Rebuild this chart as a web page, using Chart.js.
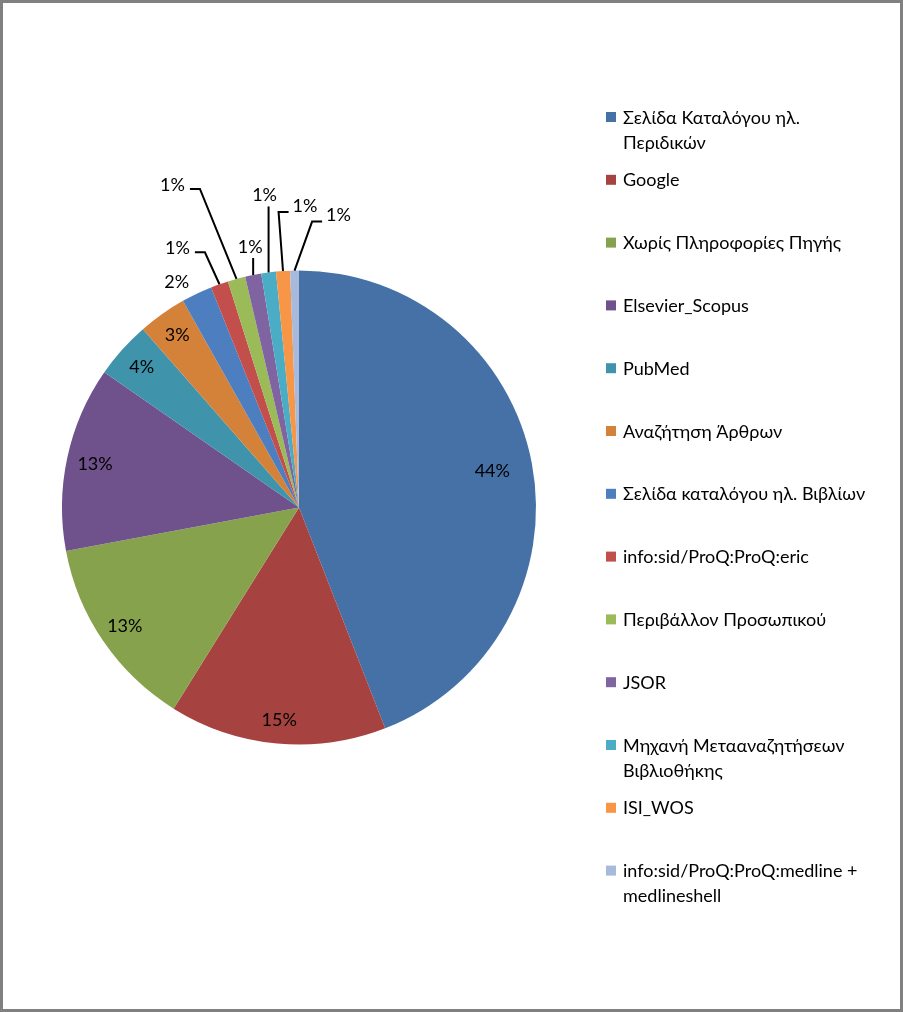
<!DOCTYPE html>
<html>
<head>
<meta charset="utf-8">
<script src="https://cdn.jsdelivr.net/npm/chart.js@4"></script>
<style>
  body { margin: 0; background: #fff; }
  canvas { display: block; }
</style>
</head>
<body>
<canvas id="pie" width="903" height="1012"></canvas>
<script>
// πηγές πρόσβασης (ετικέτες του υπομνήματος)
const sources = [
  ["Σελίδα Καταλόγου ηλ.", "Περιδικών"],
  "Google",
  "Χωρίς Πληροφορίες Πηγής",
  "Elsevier_Scopus",
  "PubMed",
  "Αναζήτηση Άρθρων",
  "Σελίδα καταλόγου ηλ. Βιβλίων",
  "info:sid/ProQ:ProQ:eric",
  "Περιβάλλον Προσωπικού",
  "JSOR",
  ["Μηχανή Μετααναζητήσεων", "Βιβλιοθήκης"],
  "ISI_WOS",
  ["info:sid/ProQ:ProQ:medline +", "medlineshell"]
];

// μερίδια (%) όπως διαβάζονται από το γράφημα
const shares = [44.1, 14.8, 13.2, 12.6, 3.9, 3.3, 2.1, 1.2, 1.2, 1.1, 1.0, 0.95, 0.6];

const colors = [
  "#4571A6", "#A6423F", "#87A24D", "#6F518C", "#3F94AC", "#D4823A",
  "#4C7EC0", "#C24F4B", "#9BBB59", "#8064A2", "#4BACC6", "#F79646", "#A8BADB"
];

// θέση ετικετών: μέσα στη φέτα (κλάσμα ακτίνας) ή έξω με γραμμή οδηγό
const labelSpots = [
  { r: 0.83 }, { r: 0.90 }, { r: 0.89 }, { r: 0.88 }, { r: 0.89 }, { r: 0.89 },
  { dx: -20, dy: -11, lead: "none" },
  { dx: -42, dy: -36, lead: "right" },
  { dx: -64, dy: -94, lead: "right" },
  { dx: -3, dy: -28, lead: "bottom" },
  { dx: -4, dy: -77, lead: "bottom" },
  { dx: 22, dy: -65, lead: "left" },
  { dx: 44, dy: -55, lead: "left" }
];

const FONT = "18px Lato, 'Open Sans', sans-serif";

const framePlugin = {
  id: "frame",
  beforeDraw(chart) {
    const ctx = chart.ctx;
    ctx.save();
    ctx.fillStyle = "#fff";
    ctx.fillRect(0, 0, chart.width, chart.height);
    ctx.restore();
  },
  afterDraw(chart) {
    const ctx = chart.ctx;
    ctx.save();
    ctx.strokeStyle = "#808080";
    ctx.lineWidth = 3;
    ctx.strokeRect(1.5, 1.5, chart.width - 3, chart.height - 3);
    ctx.restore();
  }
};

const sliceLabels = {
  id: "sliceLabels",
  afterDatasetsDraw(chart) {
    const ctx = chart.ctx;
    const arcs = chart.getDatasetMeta(0).data;
    const values = chart.data.datasets[0].data;
    const total = values.reduce((a, b) => a + b, 0);
    ctx.save();
    ctx.font = FONT;
    ctx.fillStyle = "#000";
    ctx.strokeStyle = "#000";
    ctx.lineWidth = 2;
    ctx.textAlign = "center";
    ctx.textBaseline = "middle";
    arcs.forEach((arc, i) => {
      const text = Math.round(values[i] / total * 100) + "%";
      const mid = (arc.startAngle + arc.endAngle) / 2;
      const spot = labelSpots[i];
      if (spot.r) {
        const d = arc.outerRadius * spot.r;
        ctx.fillText(text, arc.x + Math.cos(mid) * d, arc.y + Math.sin(mid) * d);
        return;
      }
      const rx = arc.x + Math.cos(mid) * arc.outerRadius;
      const ry = arc.y + Math.sin(mid) * arc.outerRadius;
      const lx = rx + spot.dx, ly = ry + spot.dy;
      ctx.fillText(text, lx, ly);
      const half = ctx.measureText(text).width / 2;
      ctx.beginPath();
      if (spot.lead === "right") {
        ctx.moveTo(lx + half + 5, ly + 4);
        ctx.lineTo(lx + half + 15, ly + 4);
        ctx.lineTo(rx, ry);
      } else if (spot.lead === "left") {
        ctx.moveTo(lx - half - 4, ly + 6);
        ctx.lineTo(lx - half - 14, ly + 6);
        ctx.lineTo(rx, ry);
      } else if (spot.lead === "bottom") {
        ctx.moveTo(rx, ly + 11);
        ctx.lineTo(rx, ry);
      }
      ctx.stroke();
    });
    ctx.restore();
  }
};

const sideLegend = {
  id: "sideLegend",
  afterDraw(chart) {
    const ctx = chart.ctx;
    const bg = chart.data.datasets[0].backgroundColor;
    const top = 117, step = 62.8;
    ctx.save();
    ctx.font = FONT;
    ctx.textAlign = "left";
    ctx.textBaseline = "alphabetic";
    chart.data.labels.forEach((label, i) => {
      const y = top + i * step;
      ctx.fillStyle = bg[i];
      ctx.fillRect(606, y - 5, 10, 10);
      ctx.fillStyle = "#000";
      const lines = Array.isArray(label) ? label : [label];
      lines.forEach((ln, j) => ctx.fillText(ln, 623, y + 6.5 + j * 25));
    });
    ctx.restore();
  }
};

new Chart(document.getElementById("pie"), {
  type: "pie",
  data: {
    labels: sources,
    datasets: [{
      data: shares,
      backgroundColor: colors,
      borderWidth: 0
    }]
  },
  options: {
    responsive: false,
    animation: false,
    layout: { padding: { left: 62, right: 367, top: 270, bottom: 267 } },
    plugins: {
      legend: { display: false },
      tooltip: { enabled: false }
    }
  },
  plugins: [framePlugin, sliceLabels, sideLegend]
});
</script>
</body>
</html>
